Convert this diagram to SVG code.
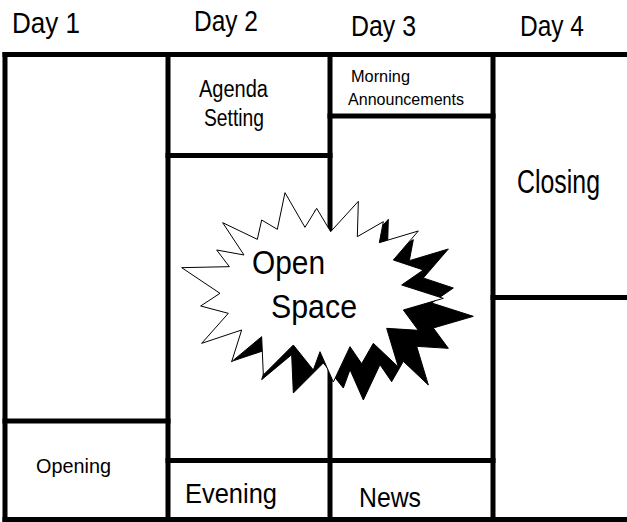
<svg xmlns="http://www.w3.org/2000/svg" xmlns:xlink="http://www.w3.org/1999/xlink" width="627" height="522" viewBox="0 0 627 522">
<style>
.ln{stroke:#000;stroke-width:5;fill:none;stroke-linecap:square}
.t{font-family:"Liberation Sans",Arial,sans-serif;fill:#000}
</style>
<defs>
<polygon id="star" transform="translate(170 170) scale(0.33333)" points="35,293 178,290 140,240 222,255 158,158 262,208 275,150 322,178 345,68 405,172 440,115 482,185 565,94 562,200 640,155 628,218 745,183 670,270 760,300 695,345 820,385 700,420 745,481 650,475 685,591 610,520 575,581 540,530 490,636 450,545 430,600 370,525 280,615 275,500 185,575 215,480 95,520 175,430 92,408 150,370"/>
</defs>
<rect width="627" height="522" fill="#fff"/>
<g id="connectors">
<line class="ln" x1="5" y1="54.5" x2="627" y2="54.5"/>
<line class="ln" x1="5" y1="519.5" x2="627" y2="519.5"/>
<line class="ln" x1="5" y1="54.5" x2="5" y2="519.5"/>
<line class="ln" x1="168" y1="54.5" x2="168" y2="519.5"/>
<line class="ln" x1="330" y1="54.5" x2="330" y2="519.5"/>
<line class="ln" x1="493" y1="54.5" x2="493" y2="519.5"/>
<line class="ln" x1="5" y1="421" x2="168" y2="421"/>
<line class="ln" x1="168" y1="155.5" x2="330" y2="155.5"/>
<line class="ln" x1="168" y1="460.5" x2="493" y2="460.5"/>
<line class="ln" x1="330" y1="116" x2="493" y2="116"/>
<line class="ln" x1="493" y1="297.5" x2="627" y2="297.5"/>
</g>
<g id="headers">
<text class="t" x="12" y="33" font-size="29" textLength="68" lengthAdjust="spacingAndGlyphs">Day 1</text>
<text class="t" x="194" y="31" font-size="29" textLength="64" lengthAdjust="spacingAndGlyphs">Day 2</text>
<text class="t" x="351" y="36" font-size="29" textLength="65" lengthAdjust="spacingAndGlyphs">Day 3</text>
<text class="t" x="520" y="36" font-size="29" textLength="64" lengthAdjust="spacingAndGlyphs">Day 4</text>
</g>
<g id="agenda">
<text class="t" x="199" y="97" font-size="23" textLength="69" lengthAdjust="spacingAndGlyphs">Agenda</text>
<text class="t" x="204" y="126" font-size="23" textLength="60" lengthAdjust="spacingAndGlyphs">Setting</text>
</g>
<g id="morning">
<text class="t" x="351" y="82" font-size="17" textLength="59" lengthAdjust="spacingAndGlyphs">Morning</text>
<text class="t" x="348" y="105" font-size="17" textLength="116" lengthAdjust="spacingAndGlyphs">Announcements</text>
</g>
<g id="closing">
<text class="t" x="517" y="193" font-size="33" textLength="83" lengthAdjust="spacingAndGlyphs">Closing</text>
</g>
<g id="opening">
<text class="t" x="36" y="473" font-size="21" textLength="75" lengthAdjust="spacingAndGlyphs">Opening</text>
</g>
<g id="evening">
<text class="t" x="185" y="503" font-size="28" textLength="92" lengthAdjust="spacingAndGlyphs">Evening</text>
</g>
<g id="news">
<text class="t" x="359" y="507" font-size="28" textLength="62" lengthAdjust="spacingAndGlyphs">News</text>
</g>
<g id="open-space">
<use xlink:href="#star" transform="translate(30 18)" fill="#000" stroke="#000" stroke-width="3"/>
<use xlink:href="#star" fill="#fff" stroke="#000" stroke-width="3"/>
<text class="t" x="252" y="274" font-size="34" textLength="73" lengthAdjust="spacingAndGlyphs">Open</text>
<text class="t" x="271" y="318" font-size="34" textLength="86" lengthAdjust="spacingAndGlyphs">Space</text>
</g>
</svg>
